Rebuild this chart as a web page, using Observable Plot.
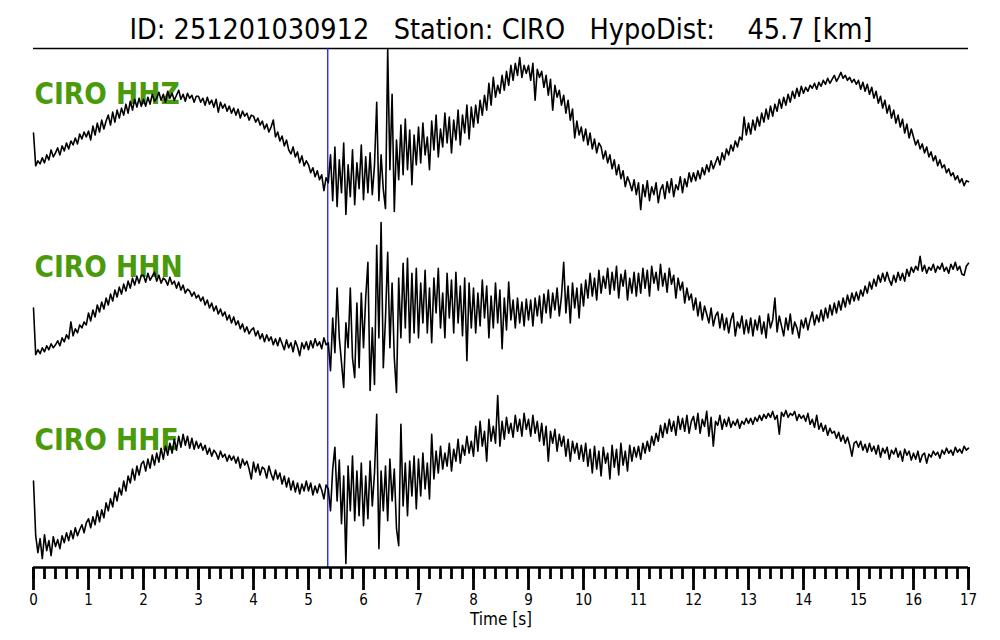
<!DOCTYPE html>
<html>
<head>
<meta charset="utf-8">
<script src="https://cdn.jsdelivr.net/npm/d3@7"></script>
<script src="https://cdn.jsdelivr.net/npm/@observablehq/plot@0.6"></script>
<style>
  html, body { margin: 0; padding: 0; background: #fff; }
  svg text { white-space: pre; }
</style>
</head>
<body>
<div id="chart"></div>
<script>
// ---- data (amplitudes, one row per second, 25 samples/s) ----
const titleText = "ID: 251201030912   Station: CIRO   HypoDist:    45.7 [km]";
const channels = ["HHZ", "HHN", "HHE"];
const station = "CIRO";
const pickTime = [5.35];
const majorTicks = [0,1,2,3,4,5,6,7,8,9,10,11,12,13,14,15,16,17];
const xLabel = "Time [s]";

const hhz = [
  [2,-31,-26,-29,-23,-28,-20,-25,-15,-22,-18,-13,-20,-11,-16,-8,-14,-6,-10,-3,-9,1,-4,3,-2],
  [4,-5,9,0,12,3,15,6,14,20,10,23,13,25,17,27,20,31,22,34,25,36,28,37,29],
  [36,29,38,31,41,34,37,43,35,41,33,44,37,42,35,40,45,36,41,34,42,37,40,33,39],
  [39,33,37,30,38,31,35,28,36,23,33,27,31,24,29,22,27,20,26,17,24,19,22,15,20],
  [19,13,17,10,14,6,11,3,8,15,-2,3,-6,-1,-11,-5,-15,-19,-12,-22,-17,-28,-21,-31,-26],
  [-30,-38,-33,-42,-36,-45,-40,-56,-43,-48,-20,-66,-12,-72,-25,-58,-8,-80,-30,-62,-15,-70,-28,-54,-10],
  [-65,-22,-58,-18,-60,-30,33,-66,-20,-55,-74,86,-35,41,-77,-5,-45,10,-40,16,-35,5,-50,0,-30],
  [8,-28,12,-20,-2,-35,14,-15,20,-22,6,-12,22,-8,18,-18,15,-5,25,-10,20,2,30,-4,28],
  [8,30,12,35,20,40,25,52,30,58,38,50,42,60,45,64,50,70,55,72,60,78,58,70,62],
  [70,55,72,35,66,58,64,48,60,40,56,25,50,38,45,30,40,22,35,15,26,-3,14,0,8],
  [-6,6,-10,2,-14,-4,-18,-8,-12,-24,-16,-28,-20,-34,-25,-40,-30,-44,-36,-52,-42,-48,-56,-45,-60],
  [-48,-75,-50,-62,-46,-66,-52,-60,-48,-68,-55,-50,-64,-47,-58,-44,-62,-50,-55,-42,-58,-44,-52,-38,-47],
  [-38,-46,-36,-44,-33,-40,-30,-37,-26,-34,-28,-22,-30,-18,-25,-14,-20,-10,-16,-6,-12,-2,-5,18,0],
  [12,1,15,5,18,9,22,13,26,16,29,19,31,24,36,27,38,30,41,33,44,37,47,39,49],
  [42,48,44,50,47,52,46,53,49,55,51,57,52,56,60,54,58,63,57,60,55,58,53,56,51],
  [55,46,53,44,51,41,48,37,44,32,39,27,35,22,30,17,25,12,20,8,16,2,11,-3,6],
  [-2,-10,-5,-14,-9,-18,-12,-22,-17,-26,-21,-31,-25,-33,-30,-38,-34,-41,-38,-45,-41,-48,-44,-51,-46],
  [-47]
];

const hhn = [
  [0,-47,-42,-46,-40,-44,-38,-42,-36,-40,-37,-33,-38,-30,-34,-27,-31,-14,-28,-21,-25,-17,-20,-14,-17],
  [-5,-13,-2,-9,3,-4,6,-1,10,3,14,7,18,11,21,14,24,17,27,20,30,23,32,25,33],
  [33,26,35,28,32,36,27,33,25,30,28,23,31,24,27,20,26,18,23,15,19,17,12,16,10],
  [13,7,11,3,8,0,5,-3,2,-6,-1,-8,-4,-12,-7,-15,-9,-17,-13,-21,-16,-24,-19,-26,-22],
  [-20,-28,-23,-31,-26,-34,-27,-33,-29,-37,-31,-38,-30,-36,-42,-32,-40,-35,-44,-33,-39,-48,-35,-41,-34],
  [-42,-33,-40,-31,-38,-34,-41,-30,-37,-35,-63,-10,-45,20,-30,-55,-80,-15,-40,20,-50,-70,5,-60,15],
  [-40,10,46,-83,-20,-77,63,-30,86,-60,-10,56,-40,25,-50,-85,30,-30,45,-20,50,-35,35,-25,40],
  [-30,25,-15,38,-25,20,-35,30,-5,40,-20,15,-30,35,-10,28,-25,36,-15,22,-28,30,-53,25,-20],
  [20,-25,15,-18,28,-10,22,-30,12,-20,25,-15,18,-41,10,-22,26,-12,8,-20,10,-15,6,-18,9],
  [-12,8,-18,10,-8,12,-15,14,-5,18,-10,15,-2,20,-8,12,46,-5,22,-15,25,0,20,-10,24],
  [2,28,10,35,12,30,8,38,15,32,20,40,14,36,18,42,10,34,22,38,8,30,15,36,12],
  [35,15,40,20,38,12,42,25,36,18,44,22,35,16,40,24,33,10,30,18,26,5,20,8,14],
  [-2,10,-8,6,-12,2,-6,-15,0,-18,-8,-4,-20,-6,-22,-10,-25,-12,-5,-28,-14,-20,-8,-26,-12],
  [-25,-10,-28,-12,-22,-8,-26,-14,-30,-6,-20,-12,10,-24,-8,-18,-28,-10,-22,-6,-26,-14,-20,-30,-12],
  [-20,-10,-22,-12,-4,-17,-7,-14,-2,-13,0,-10,3,-7,5,-5,7,-2,10,1,13,4,15,7,16],
  [8,18,12,22,15,26,19,29,22,33,26,35,27,36,28,23,33,26,36,28,35,27,39,32,41],
  [36,42,38,52,37,43,35,41,38,44,36,42,39,45,37,41,35,44,39,46,38,42,34,33,42],
  [45]
];

const hhe = [
  [0,-55,-72,-58,-78,-54,-70,-60,-75,-56,-66,-59,-68,-55,-62,-52,-60,-50,-58,-47,-55,-49,-44,-52,-42],
  [-38,-47,-36,-44,-30,-41,-29,-37,-22,-30,-18,-26,-11,-20,-7,-14,0,-10,5,-2,12,1,15,6,17],
  [20,10,22,13,26,16,28,19,33,22,35,26,38,28,42,31,45,34,47,36,45,33,43,32,40],
  [33,38,31,36,27,33,25,31,28,22,30,24,27,20,26,21,25,18,24,13,22,16,20,12,2],
  [19,9,17,6,14,12,3,15,7,1,11,2,8,-3,5,-6,3,-9,0,-11,-2,-13,-3,-10,0],
  [-10,-2,-14,-5,-12,-3,-9,-18,-4,-8,-30,12,34,-20,21,-43,5,-83,15,-30,25,-40,10,-35,18],
  [-45,5,-38,20,-25,8,67,-68,10,-30,15,-40,22,-20,12,-48,-65,57,-25,18,-35,20,-15,25,-28],
  [22,-15,28,-8,18,-18,47,2,30,8,35,12,28,15,38,10,32,20,42,18,36,26,45,28,40],
  [25,55,30,60,35,50,20,62,40,55,38,86,35,60,42,64,48,58,44,66,50,62,45,68,52],
  [62,45,66,48,60,40,58,36,55,20,50,38,52,30,47,35,45,25,42,20,40,28,38,22,36],
  [20,38,15,32,8,35,12,30,5,34,18,28,2,36,14,32,6,38,16,30,10,36,20,34,24],
  [35,22,38,28,40,30,45,36,48,40,56,44,58,48,62,50,60,46,65,52,63,50,66,48,60],
  [65,52,68,48,62,55,70,45,64,35,60,56,66,52,62,55,64,54,60,56,62,53,60,57,63],
  [58,63,57,64,60,66,61,67,63,68,64,70,62,66,47,69,65,71,64,68,66,70,61,67,63],
  [66,60,68,57,62,54,66,52,58,50,56,46,53,48,50,43,49,40,46,38,44,36,25,38,40],
  [34,40,31,37,29,38,30,35,27,36,24,33,28,34,22,31,27,33,24,30,20,32,26,30,21],
  [28,22,30,19,26,28,18,27,24,30,26,29,23,31,27,33,28,31,26,34,29,32,28,35,31],
  [33]
];

// ---- build table ----
function toSeries(rows, ch) {
  const out = [];
  rows.forEach((row, k) => row.forEach((v, j) => out.push({ch, t: k + j / row.length, v})));
  return out;
}
const traces = [...toSeries(hhz, "HHZ"), ...toSeries(hhn, "HHN"), ...toSeries(hhe, "HHE")];
const minorTicks = d3.range(0, 86).map(i => i / 5);
const labels = channels.map(c => ({ch: c, text: station + " " + c}));

const font = '"DejaVu Sans Condensed", "DejaVu Sans", sans-serif';

const chart = Plot.plot({
  width: 1000,
  height: 640,
  marginTop: 47,
  marginBottom: 73,
  marginLeft: 33,
  marginRight: 32,
  style: {fontFamily: font, background: "#fff", color: "#000", overflow: "visible"},
  x: {domain: [0, 17]},
  y: {domain: [-87, 87], axis: null},
  fy: {domain: channels, padding: 0, axis: null},
  marks: [
    Plot.text([titleText], {fy: ["HHZ"], frameAnchor: "top", dy: -19, fontSize: 28.5, fill: "#000", lineAnchor: "middle", textAnchor: "middle"}),
    Plot.ruleY([87], {fy: ["HHZ"], stroke: "#000", strokeWidth: 1.6}),
    Plot.text(labels, {fy: "ch", text: "text", frameAnchor: "top-left", dx: 1, dy: 46, fontSize: 29.5, fontWeight: "bold", fill: "#4a9a0c", textAnchor: "start", lineAnchor: "middle"}),
    Plot.ruleX(pickTime, {stroke: "#1a1aff", strokeWidth: 1.3}),
    Plot.line(traces, {x: "t", y: "v", fy: "ch", z: "ch", stroke: "#000", strokeWidth: 1.6, strokeLinejoin: "round"}),
    Plot.ruleY([-87], {fy: ["HHE"], stroke: "#000", strokeWidth: 2.4}),
    Plot.axisX({ticks: minorTicks, tickSize: 12, tickFormat: () => "", strokeWidth: 2.8, label: null, facetAnchor: "bottom"}),
    Plot.axisX({ticks: majorTicks, tickSize: 23, tickPadding: 4, fontSize: 15, strokeWidth: 2.8, label: null, tickFormat: d => String(d), facetAnchor: "bottom"}),
    Plot.text([xLabel], {fy: ["HHE"], frameAnchor: "bottom", dy: 52, fontSize: 17, fill: "#000", lineAnchor: "middle", textAnchor: "middle"})
  ]
});
document.getElementById("chart").appendChild(chart);
</script>
</body>
</html>
